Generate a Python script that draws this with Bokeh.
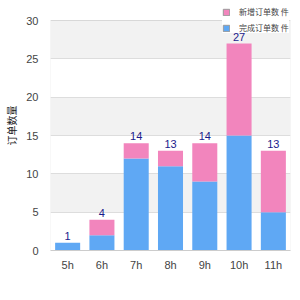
from bokeh.plotting import figure
from bokeh.models import (ColumnDataSource, Legend, LegendItem, LabelSet, FixedTicker,
                          BoxAnnotation)
from bokeh.core.properties import value
from bokeh.embed import file_html
from bokeh.resources import INLINE

hours = ["5h", "6h", "7h", "8h", "9h", "10h", "11h"]
blue_vals = [1, 2, 12, 11, 9, 15, 5]
pink_vals = [0, 2, 2, 2, 5, 12, 8]
totals = [b + p for b, p in zip(blue_vals, pink_vals)]
series_names = ["完成订单数 件", "新增订单数 件"]
y_title = "订单数量"
y_ticks = [0, 5, 10, 15, 20, 25, 30]
y_max = 30
colors = ["#5fa8f4", "#f285bd"]

src = ColumnDataSource(dict(h=hours, blue=blue_vals, pink=pink_vals, total=totals,
                            lab=[str(t) for t in totals]))

# frame extends 20px above the top tick so the legend can sit there
frame_h = 250
top = y_max * frame_h / 230.0

p = figure(frame_width=240, frame_height=frame_h, x_range=hours, y_range=(0, top),
           output_backend="svg", toolbar_location=None,
           min_border_left=50, min_border_right=10, min_border_top=0,
           min_border_bottom=50)
p.outline_line_color = None
p.background_fill_color = "white"

rs = p.vbar_stack(["blue", "pink"], x="h", width=0.73, source=src,
                  color=colors, line_color=None)

labels = LabelSet(x="h", y="total", text="lab", source=src, text_align="center",
                  text_baseline="bottom", y_offset=3, text_font_size="11px",
                  text_color="#1a1a8c", text_font=value("Liberation Sans"))
p.add_layout(labels)

# plot-area border from 0 to the top tick
p.add_layout(BoxAnnotation(bottom=0, top=y_max, fill_alpha=0,
                           line_color="#cccccc", line_width=1, level="underlay"))

# legend-only swatches (no visible data) with grey borders
nan = float("nan")
swatch = ColumnDataSource(dict(l=[nan], r=[nan], b=[nan], t=[nan]))
sw_pink = p.quad(left="l", right="r", bottom="b", top="t", source=swatch,
                 fill_color=colors[1], line_color="#999999")
sw_blue = p.quad(left="l", right="r", bottom="b", top="t", source=swatch,
                 fill_color=colors[0], line_color="#999999")

p.yaxis.ticker = FixedTicker(ticks=y_ticks)
p.ygrid.grid_line_color = "#dddddd"
p.ygrid.band_fill_color = "#f2f2f2"
p.ygrid.band_fill_alpha = 1.0
p.xgrid.grid_line_color = None

for ax in (p.xaxis, p.yaxis):
    ax.axis_line_color = None
    ax.major_tick_line_color = None
    ax.minor_tick_line_color = None
    ax.major_label_text_font_size = "11px"
    ax.major_label_text_color = "#444444"
    ax.major_label_text_font = "Liberation Sans"
p.xaxis.axis_line_color = "#cccccc"
p.yaxis.major_label_standoff = 6
p.xaxis.major_label_standoff = 2
p.yaxis.axis_label = y_title
p.yaxis.axis_label_text_font = "Noto Sans CJK SC"
p.yaxis.axis_label_text_font_size = "10px"
p.yaxis.axis_label_text_font_style = "normal"
p.yaxis.axis_label_text_color = "#222222"
p.yaxis.axis_label_standoff = 4

legend = Legend(items=[LegendItem(label=series_names[1], renderers=[sw_pink]),
                       LegendItem(label=series_names[0], renderers=[sw_blue])],
                location=(172, 217), glyph_width=8, glyph_height=8,
                label_text_font="Noto Sans CJK SC", label_text_font_size="8px",
                label_height=8, spacing=5, padding=4, margin=0,
                border_line_color=None, background_fill_alpha=1.0,
                label_standoff=9)
p.add_layout(legend)

open("out.html", "w").write(file_html(p, INLINE))
